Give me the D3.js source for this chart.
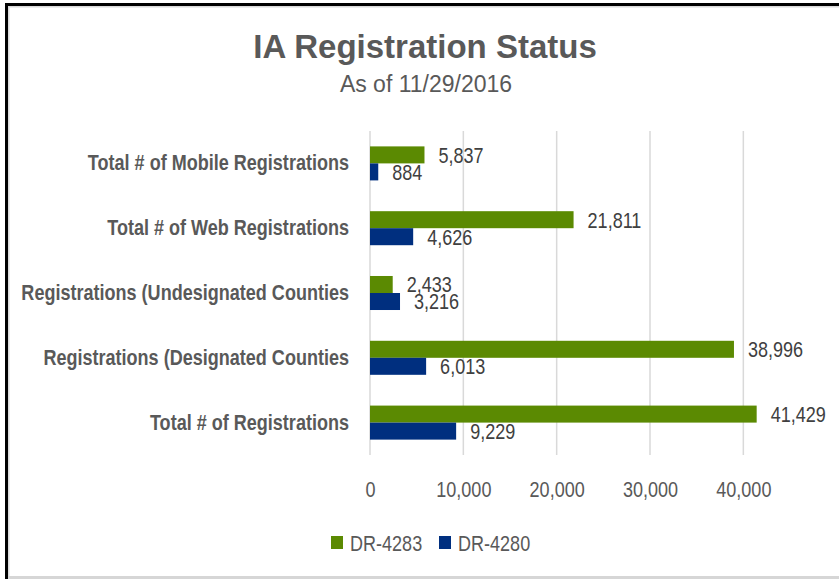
<!DOCTYPE html>
<html>
  <head>
    <meta charset="utf-8">
    <title>IA Registration Status</title>
    <style>
      body {
        margin: 0;
        background-color: white;
      }
      svg text {
        font-family: "Liberation Sans", Arial, sans-serif;
        fill: #595959;
      }
      svg text.value {
        fill: #404040;
      }
    </style>
  </head>
  <body>
    <div id="chart"></div>

    <script src="https://d3js.org/d3.v7.min.js"></script>
    <script>
    var categories = [
      "Total # of Mobile Registrations",
      "Total # of Web Registrations",
      "Registrations (Undesignated Counties",
      "Registrations (Designated Counties",
      "Total # of Registrations"
    ];
    var seriesNames = ["DR-4283", "DR-4280"];
    var dr4283 = [5837, 21811, 2433, 38996, 41429];
    var dr4280 = [884, 4626, 3216, 6013, 9229];
    var tickValues = [0, 10000, 20000, 30000, 40000];
    var colors = ["#5b8a02", "#002f7f"];

    var width = 839;
    var height = 579;
    var squeeze = 0.82; // narrow look for the body text

    var svg = d3.select("#chart").append("svg")
      .attr("width", width)
      .attr("height", height);

    // frame
    svg.append("rect").attr("x", 5).attr("y", 3).attr("width", width - 5).attr("height", 3).attr("fill", "#000");
    svg.append("rect").attr("x", 5).attr("y", 3).attr("width", 3).attr("height", height - 3).attr("fill", "#000");
    svg.append("rect").attr("x", 8).attr("y", 6).attr("width", width - 8).attr("height", 1.5).attr("fill", "#d9d9d9");
    svg.append("rect").attr("x", 8).attr("y", 6).attr("width", 1.5).attr("height", height - 6).attr("fill", "#d9d9d9");
    svg.append("rect").attr("x", 8).attr("y", 576).attr("width", width - 8).attr("height", 3).attr("fill", "#d6d6d6");

    // titles
    svg.append("text")
      .attr("x", 425).attr("y", 58)
      .attr("text-anchor", "middle")
      .style("font-size", "33px")
      .style("font-weight", "bold")
      .text("IA Registration Status");
    svg.append("text")
      .attr("x", 426).attr("y", 92)
      .attr("text-anchor", "middle")
      .style("font-size", "23px")
      .text("As of 11/29/2016");

    var x = d3.scaleLinear().domain([0, 45000]).range([370, 790]);
    var y = d3.scaleBand().domain(categories).range([131, 455])
      .paddingInner(0.475).paddingOuter(0.2375);
    var ySub = d3.scaleBand().domain(seriesNames).range([0, y.bandwidth()]);

    // gridlines
    svg.append("g").selectAll("line")
      .data(tickValues)
      .enter().append("line")
      .attr("x1", function(d) { return x(d); })
      .attr("x2", function(d) { return x(d); })
      .attr("y1", 131).attr("y2", 455)
      .attr("stroke", "#d9d9d9")
      .attr("stroke-width", 1.5);

    // x axis labels
    var xAxis = d3.axisBottom(x).tickValues(tickValues).tickSize(0).tickPadding(0)
      .tickFormat(d3.format(","));
    var gx = svg.append("g").attr("transform", "translate(0,481)").call(xAxis);
    gx.select(".domain").remove();
    gx.attr("font-family", null);
    gx.selectAll("text")
      .style("font-size", "22px")
      .attr("fill", null)
      .attr("dy", "0.71em").attr("y", 0)
      .attr("transform", "scale(" + squeeze + ",1)");

    // category labels
    var yAxis = d3.axisLeft(y).tickSize(0).tickPadding(0);
    var gy = svg.append("g").attr("transform", "translate(349,0)").call(yAxis);
    gy.select(".domain").remove();
    gy.attr("font-family", null);
    gy.selectAll("text")
      .style("font-size", "22px")
      .style("font-weight", "bold")
      .attr("fill", null)
      .attr("transform", "scale(" + squeeze + ",1)");

    var rows = categories.map(function(c, i) {
      return {cat: c, values: [dr4283[i], dr4280[i]]};
    });

    var group = svg.append("g").selectAll("g")
      .data(rows)
      .enter().append("g")
      .attr("transform", function(d) { return "translate(0," + y(d.cat) + ")"; });

    group.selectAll("rect")
      .data(function(d) { return d.values.map(function(v, j) { return {s: seriesNames[j], v: v, j: j}; }); })
      .enter().append("rect")
      .attr("x", x(0))
      .attr("y", function(d) { return ySub(d.s); })
      .attr("width", function(d) { return x(d.v) - x(0); })
      .attr("height", ySub.bandwidth())
      .attr("fill", function(d) { return colors[d.j]; });

    group.selectAll("text")
      .data(function(d) { return d.values.map(function(v, j) { return {s: seriesNames[j], v: v}; }); })
      .enter().append("text")
      .attr("class", "value")
      .attr("transform", function(d) {
        return "translate(" + (x(d.v) + 14) + "," + (ySub(d.s) + ySub.bandwidth() / 2) + ") scale(" + squeeze + ",1)";
      })
      .attr("dy", "0.36em")
      .style("font-size", "22px")
      .text(function(d) { return d3.format(",")(d.v); });

    // legend
    var legendX = [331, 439];
    var legend = svg.append("g").selectAll("g")
      .data(seriesNames)
      .enter().append("g")
      .attr("transform", function(d, i) { return "translate(" + legendX[i] + ",536)"; });
    legend.append("rect")
      .attr("width", 12).attr("height", 13)
      .attr("fill", function(d, i) { return colors[i]; });
    legend.append("text")
      .attr("transform", "translate(19,7) scale(" + squeeze + ",1)")
      .attr("dy", "0.36em")
      .style("font-size", "22px")
      .text(function(d) { return d; });
    </script>
  </body>
</html>
